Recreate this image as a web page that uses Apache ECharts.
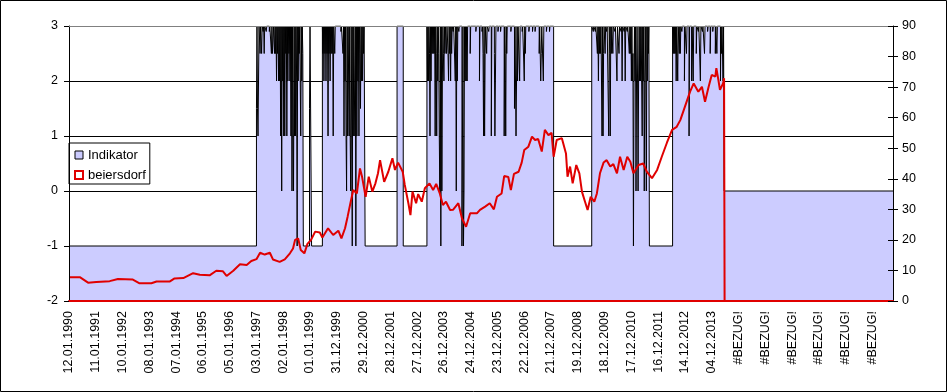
<!DOCTYPE html>
<html><head><meta charset="utf-8">
<script src="https://cdn.jsdelivr.net/npm/echarts@6/dist/echarts.min.js"></script>
<style>html,body{margin:0;padding:0;background:#fff}#c{width:948px;height:392px}</style>
</head><body><div id="c"></div>
<script>
// x tick labels: one every 52 weekly categories
const xLabels = ['12.01.1990','11.01.1991','10.01.1992','08.01.1993','07.01.1994','06.01.1995','05.01.1996','03.01.1997','02.01.1998','01.01.1999','31.12.1999','29.12.2000','28.12.2001','27.12.2002','26.12.2003','24.12.2004','23.12.2005','22.12.2006','21.12.2007','19.12.2008','18.12.2009','17.12.2010','16.12.2011','14.12.2012','04.12.2013','#BEZUG!','#BEZUG!','#BEZUG!','#BEZUG!','#BEZUG!','#BEZUG!'];
const weeksPerLabel = 52;
const lastWeek = 1600;
const leftTicks = [-2, -1, 0, 1, 2, 3];
const rightTicks = [0, 10, 20, 30, 40, 50, 60, 70, 80, 90];

// Indikator: [week, value] change points (value holds until the next point)
const indikator = [
[0,-1],[364,1.5],[365,3],
[366,1.5],[367,1],[368,2],[369,3],[371,2.5],[372,3],[374,2.5],[375,3],[377,2.9],[378,3],[379,2.5],[380,3],[383,2.9],[384,3],[389,2.9],[390,3],[393,2.5],[394,3],[395,2.5],[397,3],[399,2.5],[400,3],[401,2.5],[402,3],
[403,2],[404,3],[405,2.5],[406,3],[407,2],[408,3],[409,2],[410,3],[411,1],[412,3],[413,0],[414,3],[415,2],[416,3],[417,1],[418,3],[419,1],[420,3],[421,2.5],[422,3],[423,1],[424,3],[425,2],[426,3],[427,2.5],[428,3],
[429,2],[430,3],[431,1],[432,3],[433,0],[434,3],[435,1],[436,0],[437,3],[438,1],[439,3],[440,1],[441,3],[442,2],[443,-1],[444,3],[445,2],[446,3],[447,2.5],[448,3],[449,2],[450,1],[451,3],[452,2],[453,3],[454,2.5],
[455,-1],[467,1.5],[468,3],[471,-1],
[492,3],[493,2.5],[494,3],[495,2],[496,3],[497,2.5],[498,3],[499,2],[500,3],[501,2.5],[502,3],[503,1],[504,3],[505,2.5],[506,3],[507,2],[508,3],[509,2.5],[510,3],[511,2.5],[512,3],[513,1],[514,3],[516,2.5],[517,3],[528,2.9],[529,3],
[532,2.5],[533,3],[534,1],[535,3],[536,2],[537,3],[538,1],[539,0],[540,3],[541,1],[542,3],[543,2],[544,1],[545,3],[546,1],[547,0],[548,3],[549,1],[550,-1],[551,3],[552,1],[553,3],[554,2],[555,1],[556,3],[557,-1],[558,3],[559,1],[560,3],[561,2],[562,3],[563,1],[564,3],[565,2.5],[566,1.5],[567,3],[568,2],[569,3],[570,2],[571,3],[572,2.5],[573,3],
[575,-1],[637,3],[649,-1],
[695,3],[696,2],[697,3],[698,2],[699,3],[700,2.5],[701,1],[702,3],[703,2],[704,3],[705,2.5],[706,3],[707,2.5],[708,3],[709,2.5],[710,3],[711,1],[712,3],[713,2.5],[714,1],[715,3],[716,2],[717,3],[718,2.5],[719,1],[720,0],[721,3],[722,-1],[723,3],[724,0],[725,2],[726,3],[727,2.5],[728,2],[729,3],[730,2.5],[731,3],[733,2.5],[734,3],[736,2.5],[737,2],[738,3],[739,2.5],[740,3],[741,2],[742,3],[743,2.5],[744,3],[746,2.9],[747,3],[750,2],[751,3],[752,0],[753,3],[754,2],[755,3],[757,2.9],[758,3],
[763,-1],[764,1],[765,3],[766,-1],[767,0],[768,3],[769,2],[770,3],[771,2],[772,3],[773,2],[774,3],[779,2.5],[780,3],
[790,2.9],[791,3],[797,2],[798,3],[802,2.9],[803,3],[804,2.5],[805,1],[806,3],[807,1],[808,2.5],[809,3],[811,2.5],[812,3],[815,2.9],[816,3],[820,1],[821,3],[826,2.5],[827,1],[828,2],[829,3],[833,2.9],[834,3],[838,2.9],[839,3],
[845,1],[846,3],[847,2.5],[848,1],[849,3],[850,2.5],[851,3],[858,2.9],[859,3],[865,1.5],[866,3],[868,1],[869,2],[870,3],[871,2],[872,3],[875,2],[876,3],[880,2.9],[881,3],
[884,2],[885,3],[886,2.5],[887,3],[893,2.9],[894,3],[900,2.9],[901,3],[905,2.9],[906,3],[913,2.5],[914,3],[916,2],[917,2.5],[918,3],[921,2],[922,3],[927,2.9],[928,3],[933,2.9],[934,3],
[941,-1],
[1015,3],[1018,2.9],[1019,3],[1022,2.9],[1023,3],
[1026,2.5],[1027,3],[1028,2],[1029,3],[1030,2.5],[1031,3],[1032,2.5],[1033,3],[1035,1],[1036,3],[1037,1],[1038,2.5],[1039,3],[1041,2.5],[1042,3],[1044,2.9],[1045,3],
[1048,1],[1049,3],[1050,2.5],[1051,1],[1052,3],[1053,2.5],[1054,3],[1056,2.5],[1057,3],[1060,2.9],[1061,3],
[1064,2],[1065,3],[1068,2.5],[1069,3],[1072,2.9],[1073,3],[1074,2],[1075,3],[1078,2.9],[1079,3],[1080,2],[1081,3],[1084,2.9],[1085,3],
[1088,2.5],[1089,3],[1090,2.5],[1091,3],[1092,2],[1093,3],[1094,2],[1095,2.5],[1096,-1],[1097,2],[1098,3],[1099,2],[1100,3],[1101,0],[1102,2],[1103,3],[1104,2],[1105,0],[1106,2],[1107,3],[1108,2],[1109,3],[1110,2],[1111,3],[1112,2],[1113,1],[1114,3],[1115,2],[1116,3],[1117,0],[1118,2],[1119,3],[1120,2],[1121,0],[1122,3],[1123,2],[1124,3],[1125,2.5],[1126,3],
[1127,-1],
[1172,3],[1173,2.5],[1174,3],[1175,2.5],[1176,3],[1177,2.5],[1178,3],[1179,2],[1180,3],[1182,2],[1183,3],[1185,2.5],[1186,3],[1187,2.5],[1188,3],[1190,2.9],[1191,3],[1195,2],[1196,3],[1199,2.5],[1200,3],[1204,1],[1205,3],[1209,2],[1210,3],[1212,2],[1213,3],[1218,2.5],[1219,3],[1222,2.9],[1223,3],[1226,2],[1227,3],[1230,2.9],[1231,3],[1234,2.5],[1235,3],[1240,2.9],[1241,3],[1245,2.5],[1246,3],[1250,2.9],[1251,3],[1255,2.5],[1256,3],[1258,2.5],[1259,3],[1265,2],[1266,3],[1267,2.5],[1268,3],[1270,2],[1271,3],
[1272,0],[1600,0]
];

// beiersdorf: [week, price]
const beiersdorf = [
[0,7.8],[21,7.8],[37,6.0],[53,6.2],[79,6.5],[95,7.2],[124,7.0],[137,5.8],[160,5.8],[170,6.4],[196,6.4],[205,7.4],[222,7.5],[241,9.1],[254,8.6],[273,8.4],[286,9.9],[299,9.7],[306,8.2],[319,9.9],[332,12.0],[345,11.8],[354,13.1],[364,13.7],[371,15.8],[380,15.2],[390,15.8],[396,13.6],[409,12.8],[419,13.6],[429,15.6],[435,17.2],[439,20.0],[445,20.5],[450,16.7],[457,15.6],[463,18.7],[470,20.0],[478,22.7],[487,22.4],[492,20.8],[503,23.8],[513,21.6],[523,23.0],[529,20.5],[536,23.8],[541,27.6],[547,32.5],[552,36.3],[559,35.2],[565,43.4],[569,40.7],[576,34.1],[582,40.7],[589,35.8],[595,38.5],[600,41.8],[604,46.1],[612,39.0],[620,42.3],[628,46.7],[633,42.9],[639,45.3],[648,42.3],[652,38.0],[659,32.0],[663,28.1],[667,35.8],[674,32.0],[678,35.0],[685,32.5],[691,36.9],[700,38.5],[707,36.3],[713,38.3],[720,35.2],[726,31.4],[732,32.5],[740,29.8],[746,29.9],[756,32.0],[763,27.1],[771,24.3],[779,28.7],[792,28.7],[798,29.8],[808,30.9],[817,32.0],[825,30.0],[831,34.1],[840,35.2],[845,40.9],[853,40.6],[858,36.3],[864,41.6],[873,42.3],[879,45.3],[884,49.4],[892,50.5],[899,53.8],[905,52.7],[911,53.0],[918,48.9],[924,56.0],[931,54.3],[937,55.0],[941,47.2],[947,52.7],[957,53.3],[965,48.3],[968,40.7],[973,44.0],[978,38.5],[985,44.5],[991,41.8],[996,35.8],[1002,32.5],[1007,29.8],[1013,34.1],[1020,32.5],[1025,35.2],[1031,41.8],[1038,45.3],[1044,46.1],[1051,44.0],[1057,44.8],[1064,41.8],[1070,47.2],[1077,42.9],[1084,47.2],[1090,45.6],[1096,41.8],[1106,44.5],[1115,45.0],[1122,42.3],[1132,40.2],[1142,42.9],[1151,47.2],[1161,51.8],[1171,56.0],[1180,57.0],[1187,59.2],[1196,63.6],[1206,68.5],[1213,71.2],[1222,68.5],[1229,70.1],[1235,65.2],[1242,70.1],[1248,74.0],[1255,73.4],[1257,76.2],[1261,72.3],[1264,69.1],[1270,71.2],[1272,72.9],[1273,0],[1600,0]
];

const FONT = 'Liberation Sans, Arial, sans-serif';
const FS = 12.5;
const chart = echarts.init(document.getElementById('c'), null, {renderer: 'canvas'});
chart.setOption({
  animation: false,
  backgroundColor: '#fff',
  graphic: [{type: 'rect', shape: {x: 0.5, y: 0.5, width: 946, height: 391}, style: {fill: 'none', stroke: '#000', lineWidth: 1}, z: 100}],
  grid: {left: 69, right: 55, top: 26, bottom: 91, containLabel: false},
  legend: {
    orient: 'vertical', left: 69, top: 143,
    backgroundColor: '#fff', borderColor: '#000', borderWidth: 1,
    padding: [5, 4, 2, 5], itemGap: 6, itemWidth: 8, itemHeight: 8,
    textStyle: {fontFamily: FONT, fontSize: 13, color: '#000', lineHeight: 14},
    data: [
      {name: 'Indikator', icon: 'rect', itemStyle: {color: '#CCCCFF', borderColor: '#000', borderWidth: 1}},
      {name: 'beiersdorf', icon: 'rect', itemStyle: {color: '#fff', borderColor: '#e00000', borderWidth: 2}}
    ]
  },
  xAxis: [{
    type: 'value', min: 0, max: lastWeek, interval: weeksPerLabel, z: 5, position: 'bottom',
    axisLine: {onZero: false, lineStyle: {color: '#e00000', width: 2}},
    axisTick: {show: false}, splitLine: {show: false},
    axisLabel: {
      rotate: 90, margin: 10, color: '#000', fontFamily: FONT, fontSize: FS,
      showMaxLabel: false,
      formatter: v => (v % weeksPerLabel === 0 && xLabels[v / weeksPerLabel]) ? xLabels[v / weeksPerLabel] : ''
    }
  }, {
    type: 'value', min: 0, max: lastWeek, position: 'top', z: 5,
    axisLine: {onZero: false, lineStyle: {color: '#808080', width: 1}},
    axisTick: {show: false}, axisLabel: {show: false}, splitLine: {show: false}
  }],
  yAxis: [{
    type: 'value', min: leftTicks[0], max: leftTicks[leftTicks.length - 1], interval: 1, position: 'left', z: 5,
    axisLine: {show: true, onZero: false, lineStyle: {color: '#000'}},
    axisTick: {show: true, length: 5, lineStyle: {color: '#000'}},
    axisLabel: {margin: 11, color: '#000', fontFamily: FONT, fontSize: FS},
    splitLine: {show: false}
  }, {
    type: 'value', min: rightTicks[0], max: rightTicks[rightTicks.length - 1], interval: 10, position: 'right', z: 5,
    axisLine: {show: true, onZero: false, lineStyle: {color: '#000'}},
    axisTick: {show: true, length: 5, lineStyle: {color: '#000'}},
    axisLabel: {margin: 9, color: '#000', fontFamily: FONT, fontSize: FS},
    splitLine: {show: false}
  }, {
    type: 'value', min: rightTicks[0], max: rightTicks[rightTicks.length - 1], interval: 10, position: 'right', z: 5,
    axisLine: {show: false, onZero: false},
    axisTick: {show: true, inside: true, length: 5, lineStyle: {color: '#000'}},
    axisLabel: {show: false}, splitLine: {show: false}
  }, {
    type: 'value', min: leftTicks[0], max: leftTicks[leftTicks.length - 1], interval: 1, position: 'left', z: 0,
    axisLine: {show: false, onZero: false}, axisTick: {show: false}, axisLabel: {show: false},
    splitLine: {show: true, lineStyle: {color: ['#000', '#000', '#000', '#000', '#000', '#808080'], width: 1}}
  }],
  series: [{
    name: 'Indikator', type: 'line', step: 'end', xAxisIndex: 0, yAxisIndex: 0,
    data: indikator, symbol: 'none', z: 2,
    lineStyle: {color: '#000', width: 1},
    itemStyle: {color: '#CCCCFF'},
    areaStyle: {color: '#CCCCFF', opacity: 1, origin: 'start'}
  }, {
    name: 'beiersdorf', type: 'line', xAxisIndex: 0, yAxisIndex: 1,
    data: beiersdorf, symbol: 'none', z: 3,
    lineStyle: {color: '#e00000', width: 2},
    itemStyle: {color: '#e00000'}
  }]
});
</script></body></html>
